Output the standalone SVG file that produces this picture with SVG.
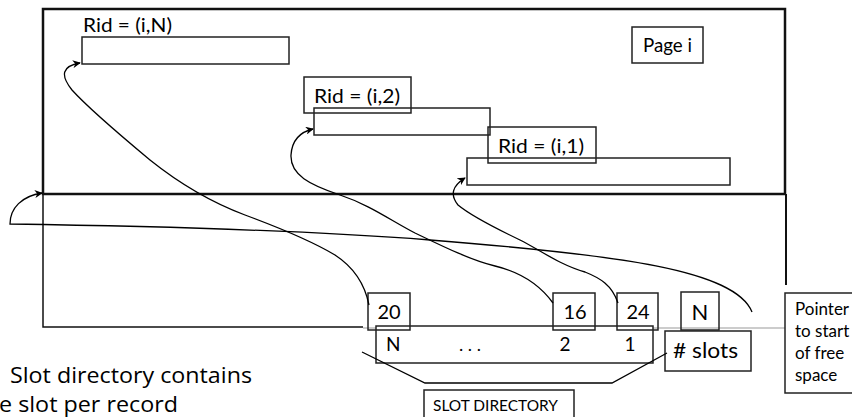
<svg xmlns="http://www.w3.org/2000/svg" width="852" height="417" viewBox="0 0 852 417">
<defs>
<marker id="ah" viewBox="0 0 10 10" refX="9" refY="5" markerWidth="8" markerHeight="8" markerUnits="userSpaceOnUse" orient="auto">
<path d="M0,0 L10,5 L0,10 L3,5 z" fill="#000"/>
</marker>
<style>
.box{fill:#fff;stroke:#222;stroke-width:1.5}
.t{font-family:Lato,"Liberation Sans",sans-serif;fill:#000}
.c{fill:none;stroke:#000;stroke-width:1.3}
</style>
</defs>
<rect width="852" height="417" fill="#fff"/>
<g id="page">
<rect x="43" y="9" width="742" height="185" fill="none" stroke="#111" stroke-width="2.5"/>
<path d="M43,194 V327 H363" fill="none" stroke="#111" stroke-width="1.5"/>
<path d="M786,194 V285" fill="none" stroke="#111" stroke-width="2"/>
<path d="M363,328 H786" fill="none" stroke="#999" stroke-width="1"/>
</g>
<g id="page-label"><rect class="box" x="632" y="27" width="71" height="36"/><text class="t" x="643" y="52" font-size="20" textLength="49" lengthAdjust="spacingAndGlyphs">Page i</text></g>
<g id="recN"><text class="t" x="83" y="32" font-size="19" textLength="89" lengthAdjust="spacingAndGlyphs">Rid = (i,N)</text><rect x="82" y="37" width="207" height="27" fill="none" stroke="#222" stroke-width="1.5"/></g>
<g id="rec2"><rect class="box" x="304" y="77" width="107" height="36"/><text class="t" x="314" y="103" font-size="19" textLength="86" lengthAdjust="spacingAndGlyphs">Rid = (i,2)</text><rect x="314" y="108" width="176" height="27" fill="none" stroke="#222" stroke-width="1.5"/></g>
<g id="rec1"><rect x="488" y="127" width="108" height="36" fill="none" stroke="#222" stroke-width="1.5"/><text class="t" x="498" y="153" font-size="19" textLength="86" lengthAdjust="spacingAndGlyphs">Rid = (i,1)</text><rect x="467" y="158" width="263" height="27" fill="none" stroke="#222" stroke-width="1.5"/></g>
<g id="slot-directory">
<rect class="box" x="376" y="326" width="277" height="37"/>
<text class="t" x="386" y="351" font-size="19">N</text>
<text class="t" x="470" y="351" font-size="18" text-anchor="middle">. . .</text>
<text class="t" x="565" y="351" font-size="19" text-anchor="middle">2</text>
<text class="t" x="630" y="351" font-size="19" text-anchor="middle">1</text>
</g>
<g id="off20"><rect x="368" y="293" width="42" height="37" fill="none" stroke="#222" stroke-width="1.5"/><text class="t" x="389" y="319" font-size="20" text-anchor="middle">20</text></g>
<g id="off16"><rect x="553" y="293" width="42" height="37" fill="none" stroke="#222" stroke-width="1.5"/><text class="t" x="575" y="319" font-size="20" text-anchor="middle">16</text></g>
<g id="off24"><rect x="617" y="293" width="41" height="37" fill="none" stroke="#222" stroke-width="1.5"/><text class="t" x="638" y="319" font-size="20" text-anchor="middle">24</text></g>
<g id="nslots"><rect x="681" y="292" width="38" height="38" fill="none" stroke="#222" stroke-width="1.5"/><text class="t" x="700" y="320" font-size="22" text-anchor="middle">N</text></g>
<g id="slots-label"><rect class="box" x="665" y="331" width="86" height="40"/><text class="t" x="673" y="358" font-size="22" textLength="65" lengthAdjust="spacingAndGlyphs"># slots</text></g>
<g id="pointer-label"><rect class="box" x="785" y="293" width="70" height="100"/>
<text class="t" x="795" y="315" font-size="17">Pointer</text>
<text class="t" x="795" y="337" font-size="17">to start</text>
<text class="t" x="795" y="359" font-size="17">of free</text>
<text class="t" x="795" y="381" font-size="17">space</text></g>
<g id="dir-label"><rect class="box" x="424" y="390" width="150" height="30"/><text class="t" x="433" y="411" font-size="15" textLength="125" lengthAdjust="spacingAndGlyphs">SLOT DIRECTORY</text></g>
<g id="notes">
<text x="10" y="383" font-family="'Open Sans','Liberation Sans',sans-serif" font-size="22" textLength="242" lengthAdjust="spacingAndGlyphs" fill="#000">Slot directory contains</text>
<text x="-1" y="412" font-family="'Open Sans','Liberation Sans',sans-serif" font-size="22" textLength="179" lengthAdjust="spacingAndGlyphs" fill="#000">e slot per record</text>
</g>
<g id="connectors">
<path class="c" d="M362,352 L425,383 L612,383 L667,353"/>
<path class="c" d="M369,305 C365,285 355,268 335,255 C310,240 280,228 245,215 C205,200 175,180 150,160 C120,135 90,110 72,90 C60,75 62,66 80,63" marker-end="url(#ah)"/>
<path class="c" d="M553,303 C540,285 520,272 495,266 C470,260 440,245 415,233 C390,220 370,205 340,195 C310,185 290,175 291,155 C292,140 300,132 313,129" marker-end="url(#ah)"/>
<path class="c" d="M618,303 C612,285 600,278 585,272 C560,265 540,250 520,240 C495,228 470,215 458,205 C450,195 452,186 465,178" marker-end="url(#ah)"/>
<path class="c" d="M752,312 C735,270 620,255 430,240 C300,230 150,226 10,224 C10,208 22,196 42,193" marker-end="url(#ah)"/>
</g>
</svg>
